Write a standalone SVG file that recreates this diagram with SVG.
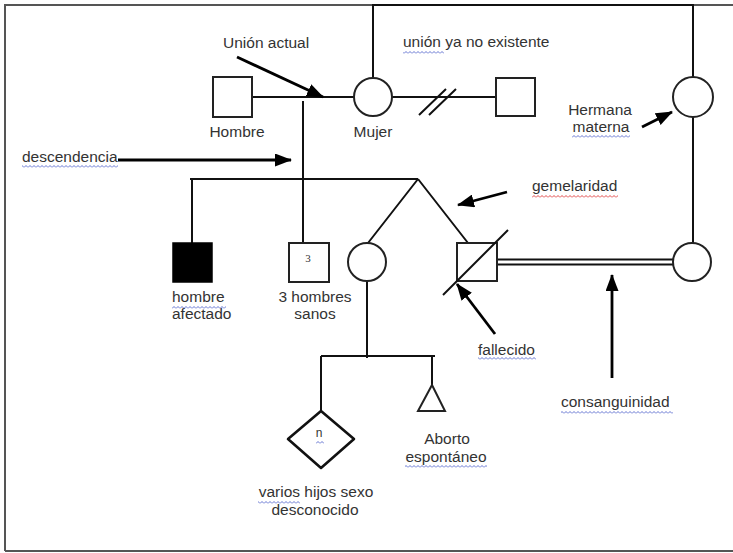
<svg xmlns="http://www.w3.org/2000/svg" width="733" height="553" viewBox="0 0 733 553">
<style>
.ln{stroke:#111;stroke-width:2;fill:none}
.sh{stroke:#222;stroke-width:2;fill:#fff}
.ar{stroke:#000;stroke-width:2.8;fill:none;marker-end:url(#ah)}
.t{font-family:"Liberation Sans",Arial,sans-serif;font-size:15.5px;fill:#333}
.m{text-anchor:middle}
.frame{stroke:#555;stroke-width:2;fill:none}
</style>
<defs>
<marker id="ah" markerUnits="userSpaceOnUse" markerWidth="17" markerHeight="13" refX="16" refY="6.5" orient="auto">
<path d="M0,0 L17,6.5 L0,13 z" fill="#000"/>
</marker>
<pattern id="wb" patternUnits="userSpaceOnUse" width="4" height="3">
<path d="M0,2.5 L2,0.5 L4,2.5" stroke="#5566cc" stroke-width="0.9" fill="none"/>
</pattern>
<pattern id="wr" patternUnits="userSpaceOnUse" width="4" height="3">
<path d="M0,2.5 L2,0.5 L4,2.5" stroke="#dd3333" stroke-width="0.9" fill="none"/>
</pattern>
</defs>
<rect width="733" height="553" fill="#fff"/>
<path class="frame" d="M5,551 L5,5 L733,5 M5,551 L733,551"/>

<g id="connectors">
<path class="ln" d="M373,78 L373,5 L693,5 L693,77"/>
<path class="ln" d="M693,117 L693,243"/>
<path class="ln" d="M252,97 L354,97"/>
<path class="ln" d="M303,101 L303,243"/>
<path class="ln" d="M190,179 L418,179"/>
<path class="ln" d="M192,179 L192,243"/>
<path class="ln" d="M418,179 L368,243 M418,179 L468,243"/>
<path class="ln" d="M392,97 L496,97"/>
<path class="ln" d="M419,115 L446,89 M429,115 L456,89"/>
<path class="ln" d="M497,259.5 L674,259.5 M497,264.5 L674,264.5"/>
<path class="ln" d="M367,281 L367,358"/>
<path class="ln" d="M321,356 L435,356"/>
<path class="ln" d="M321,356 L321,411"/>
<path class="ln" d="M432,356 L432,385"/>
</g>

<g id="arrows">
<line class="ar" x1="237" y1="57" x2="323" y2="97"/>
<line class="ar" x1="118" y1="160" x2="291" y2="160"/>
<line class="ar" x1="642" y1="127" x2="672" y2="112"/>
<line class="ar" x1="507" y1="192" x2="458" y2="205"/>
<line class="ar" x1="495" y1="334" x2="457" y2="284"/>
<line class="ar" x1="612" y1="378" x2="612" y2="275"/>
</g>

<g id="hombre">
<rect class="sh" x="213" y="77" width="39" height="40"/>
<text class="t m" x="237" y="137">Hombre</text>
</g>
<g id="mujer">
<circle class="sh" cx="373" cy="97" r="19"/>
<text class="t m" x="373" y="137">Mujer</text>
</g>
<g id="ex-pareja">
<rect class="sh" x="496" y="78" width="39" height="38"/>
</g>
<g id="hermana-materna">
<circle class="sh" cx="693" cy="97" r="20"/>
<text class="t m" x="600" y="115">Hermana</text>
<text class="t m" x="601" y="132">materna</text>
<rect x="572" y="135" width="58" height="3" fill="url(#wb)"/>
</g>
<g id="hija-hermana">
<circle class="sh" cx="692" cy="262" r="19"/>
</g>
<g id="hombre-afectado">
<rect x="173" y="243" width="39" height="39" fill="#000" stroke="#000" stroke-width="1.5"/>
<text class="t" x="172" y="302">hombre</text>
<text class="t" x="172" y="319">afectado</text>
<rect x="172" y="306" width="54" height="3" fill="url(#wb)"/>
</g>
<g id="tres-hombres">
<rect class="sh" x="289" y="243" width="40" height="39"/>
<text x="308" y="262" text-anchor="middle" font-family="'Liberation Serif',serif" font-size="11" fill="#333">3</text>
<text class="t m" x="315" y="302">3 hombres</text>
<text class="t m" x="315" y="319">sanos</text>
</g>
<g id="gemela">
<circle class="sh" cx="367" cy="262" r="19"/>
</g>
<g id="fallecido">
<rect class="sh" x="457" y="243" width="40" height="38"/>
<line class="ln" x1="443" y1="295" x2="508" y2="230" stroke-width="1.5"/>
<text class="t" x="478" y="355">fallecido</text>
<rect x="478" y="357" width="58" height="3" fill="url(#wb)"/>
</g>
<g id="varios-hijos">
<path d="M321,411 L354,439 L321,468 L288,439 z" fill="#fff" stroke="#111" stroke-width="2.6" stroke-linejoin="round"/>
<text x="319" y="437" text-anchor="middle" font-family="'Liberation Sans',sans-serif" font-size="12" fill="#333">n</text>
<rect x="316" y="441" width="8" height="3" fill="url(#wb)"/>
<text class="t m" x="316" y="497">varios hijos sexo</text>
<text class="t m" x="315" y="515">desconocido</text>
<rect x="258" y="501" width="42" height="3" fill="url(#wb)"/>
</g>
<g id="aborto">
<path d="M432,385 L445,411 L418,411 z" class="sh"/>
<text class="t m" x="447" y="444">Aborto</text>
<text class="t m" x="446" y="462">espontáneo</text>
<rect x="405" y="465" width="82" height="3" fill="url(#wb)"/>
</g>

<g id="labels">
<text class="t" x="223" y="48">Unión actual</text>
<text class="t" x="22" y="162">descendencia</text>
<rect x="22" y="165" width="96" height="3" fill="url(#wb)"/>
<text class="t" x="403" y="47">unión ya no existente</text>
<rect x="403" y="51" width="41" height="3" fill="url(#wb)"/>
<text class="t" x="532" y="191">gemelaridad</text>
<rect x="532" y="195" width="86" height="3" fill="url(#wr)"/>
<text class="t" x="561" y="407">consanguinidad</text>
<rect x="561" y="411" width="112" height="3" fill="url(#wb)"/>
</g>
</svg>
